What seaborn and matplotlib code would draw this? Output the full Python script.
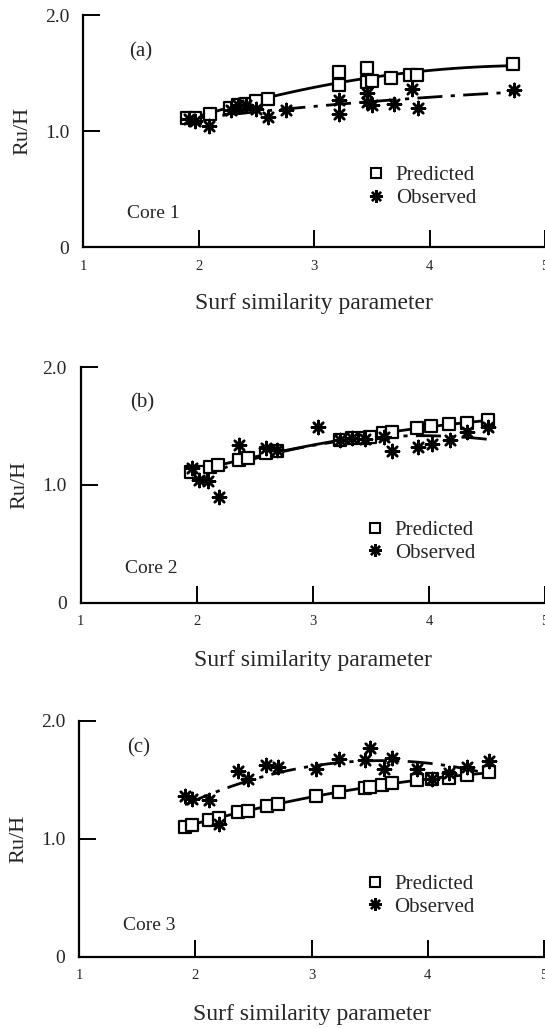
import numpy as np
import pandas as pd
import seaborn as sns
import matplotlib
matplotlib.use("Agg")
import matplotlib.pyplot as plt
from matplotlib.lines import Line2D

# Values (surf similarity parameter vs Ru/H)
pred_x_a = [1.90, 1.97, 2.10, 2.27, 2.34, 2.41, 2.50, 2.60, 3.22, 3.22, 3.46, 3.46, 3.50, 3.67, 3.83, 3.89, 4.72]
pred_y_a = [1.11, 1.11, 1.15, 1.20, 1.22, 1.23, 1.26, 1.28, 1.51, 1.40, 1.54, 1.42, 1.43, 1.46, 1.48, 1.48, 1.58]
obs_x_a = [1.92, 1.97, 2.09, 2.28, 2.34, 2.41, 2.50, 2.60, 2.76, 3.22, 3.22, 3.46, 3.46, 3.50, 3.69, 3.85, 3.90, 4.73]
obs_y_a = [1.10, 1.09, 1.04, 1.18, 1.22, 1.22, 1.19, 1.12, 1.18, 1.27, 1.15, 1.33, 1.25, 1.22, 1.23, 1.36, 1.20, 1.35]

pred_x_b = [1.95, 2.04, 2.11, 2.18, 2.36, 2.44, 2.60, 2.69, 3.23, 3.34, 3.45, 3.49, 3.60, 3.68, 3.90, 4.02, 4.17, 4.33, 4.51]
pred_y_b = [1.11, 1.11, 1.15, 1.17, 1.21, 1.23, 1.27, 1.29, 1.38, 1.40, 1.40, 1.41, 1.44, 1.45, 1.48, 1.50, 1.52, 1.53, 1.55]
obs_x_b = [1.96, 2.02, 2.10, 2.19, 2.36, 2.60, 2.69, 3.04, 3.23, 3.34, 3.45, 3.61, 3.68, 3.91, 4.03, 4.18, 4.33, 4.51]
obs_y_b = [1.14, 1.04, 1.03, 0.90, 1.34, 1.31, 1.30, 1.49, 1.38, 1.40, 1.39, 1.41, 1.29, 1.32, 1.35, 1.38, 1.45, 1.49]

pred_x_c = [1.91, 1.97, 2.12, 2.20, 2.37, 2.45, 2.62, 2.71, 3.04, 3.24, 3.46, 3.50, 3.61, 3.69, 3.91, 4.04, 4.18, 4.34, 4.53]
pred_y_c = [1.10, 1.12, 1.16, 1.18, 1.23, 1.24, 1.28, 1.30, 1.36, 1.40, 1.43, 1.44, 1.46, 1.47, 1.50, 1.51, 1.52, 1.54, 1.57]
obs_x_c = [1.91, 1.97, 2.12, 2.20, 2.37, 2.45, 2.61, 2.71, 3.04, 3.24, 3.46, 3.50, 3.62, 3.69, 3.91, 4.04, 4.18, 4.34, 4.53]
obs_y_c = [1.36, 1.34, 1.33, 1.13, 1.58, 1.51, 1.63, 1.61, 1.59, 1.68, 1.67, 1.77, 1.59, 1.69, 1.59, 1.51, 1.56, 1.61, 1.66]

panel_tags = ['(a)', '(b)', '(c)']
core_names = ['Core 1', 'Core 2', 'Core 3']
x_ticks = [1, 2, 3, 4, 5]
y_ticks = [0, 1, 2]
y_tick_labels = ['0', '1.0', '2.0']

sns.set_style('white')
plt.rcParams['font.family'] = ['Liberation Serif', 'DejaVu Serif']

fig = plt.figure(figsize=(5.45, 10.28), dpi=100)

boxes = [[0.1523, 0.7597, 0.8477, 0.2257],
         [0.1481, 0.4139, 0.8519, 0.2288],
         [0.1455, 0.0691, 0.8545, 0.2296]]
x_right = [4.98, 4.98, 5.01]
tag_pos = [(1.50, 1.68), (1.53, 1.70), (1.51, 1.77)]
core_pos = [(1.38, 0.29), (1.38, 0.29), (1.38, 0.27)]

data = [(pred_x_a, pred_y_a, obs_x_a, obs_y_a),
        (pred_x_b, pred_y_b, obs_x_b, obs_y_b),
        (pred_x_c, pred_y_c, obs_x_c, obs_y_c)]

star = (8, 2, 0)
obs_dash = (0, (9, 3, 1.5, 3))

for i, (px, py, ox, oy) in enumerate(data):
    ax = fig.add_axes(boxes[i])
    pred = pd.DataFrame({'x': px, 'y': py})
    obs = pd.DataFrame({'x': ox, 'y': oy})

    # trend curves (2nd order fit, as in the original figure)
    sns.regplot(data=pred, x='x', y='y', order=2, ci=None, scatter=False, ax=ax,
                color='black', line_kws={'lw': 2.0, 'ls': '-'})
    sns.regplot(data=obs, x='x', y='y', order=2, ci=None, scatter=False, ax=ax,
                color='black', line_kws={'lw': 2.0, 'ls': obs_dash})

    sns.scatterplot(data=pred, x='x', y='y', marker='s', s=70, facecolor='white',
                    edgecolor='black', linewidth=1.6, ax=ax, zorder=4)
    sns.scatterplot(data=obs, x='x', y='y', marker=star, s=90, color='black',
                    linewidth=1.8, ax=ax, zorder=5)

    ax.set_xlim(1, x_right[i])
    ax.set_ylim(0, 2.0)
    ax.set_xticks(x_ticks)
    ax.set_xticklabels([str(t) for t in x_ticks], fontsize=10.5)
    ax.set_yticks(y_ticks)
    ax.set_yticklabels(y_tick_labels, fontsize=14)
    ax.tick_params(axis='both', direction='in', length=12, width=1.4, color='black',
                   bottom=True, left=True)
    ax.tick_params(axis='x', pad=9)
    ax.tick_params(axis='y', pad=10)

    for side in ['top', 'right']:
        ax.spines[side].set_visible(False)
    for side in ['left', 'bottom']:
        ax.spines[side].set_linewidth(1.6)
        ax.spines[side].set_color('black')

    ax.set_xlabel('Surf similarity parameter', fontsize=17)
    ax.xaxis.set_label_coords(0.5, -0.2)
    ax.set_ylabel('Ru/H', fontsize=16)
    ax.yaxis.set_label_coords(-0.11, 0.5)

    ax.text(tag_pos[i][0], tag_pos[i][1], panel_tags[i], fontsize=15, ha='center', va='center')
    ax.text(core_pos[i][0], core_pos[i][1], core_names[i], fontsize=14, ha='left', va='center')

    handles = [Line2D([], [], ls='none', marker='s', ms=7, mfc='white', mec='black', mew=1.5),
               Line2D([], [], ls='none', marker=star, ms=9, color='black', mew=1.7)]
    ax.legend(handles, ['Predicted', 'Observed'], loc='center left', bbox_to_anchor=(0.616, 0.26),
              frameon=False, fontsize=15, handlelength=0.8, handletextpad=0.55,
              labelspacing=0.15, borderpad=0, borderaxespad=0)

plt.savefig('out.png', dpi=100)
